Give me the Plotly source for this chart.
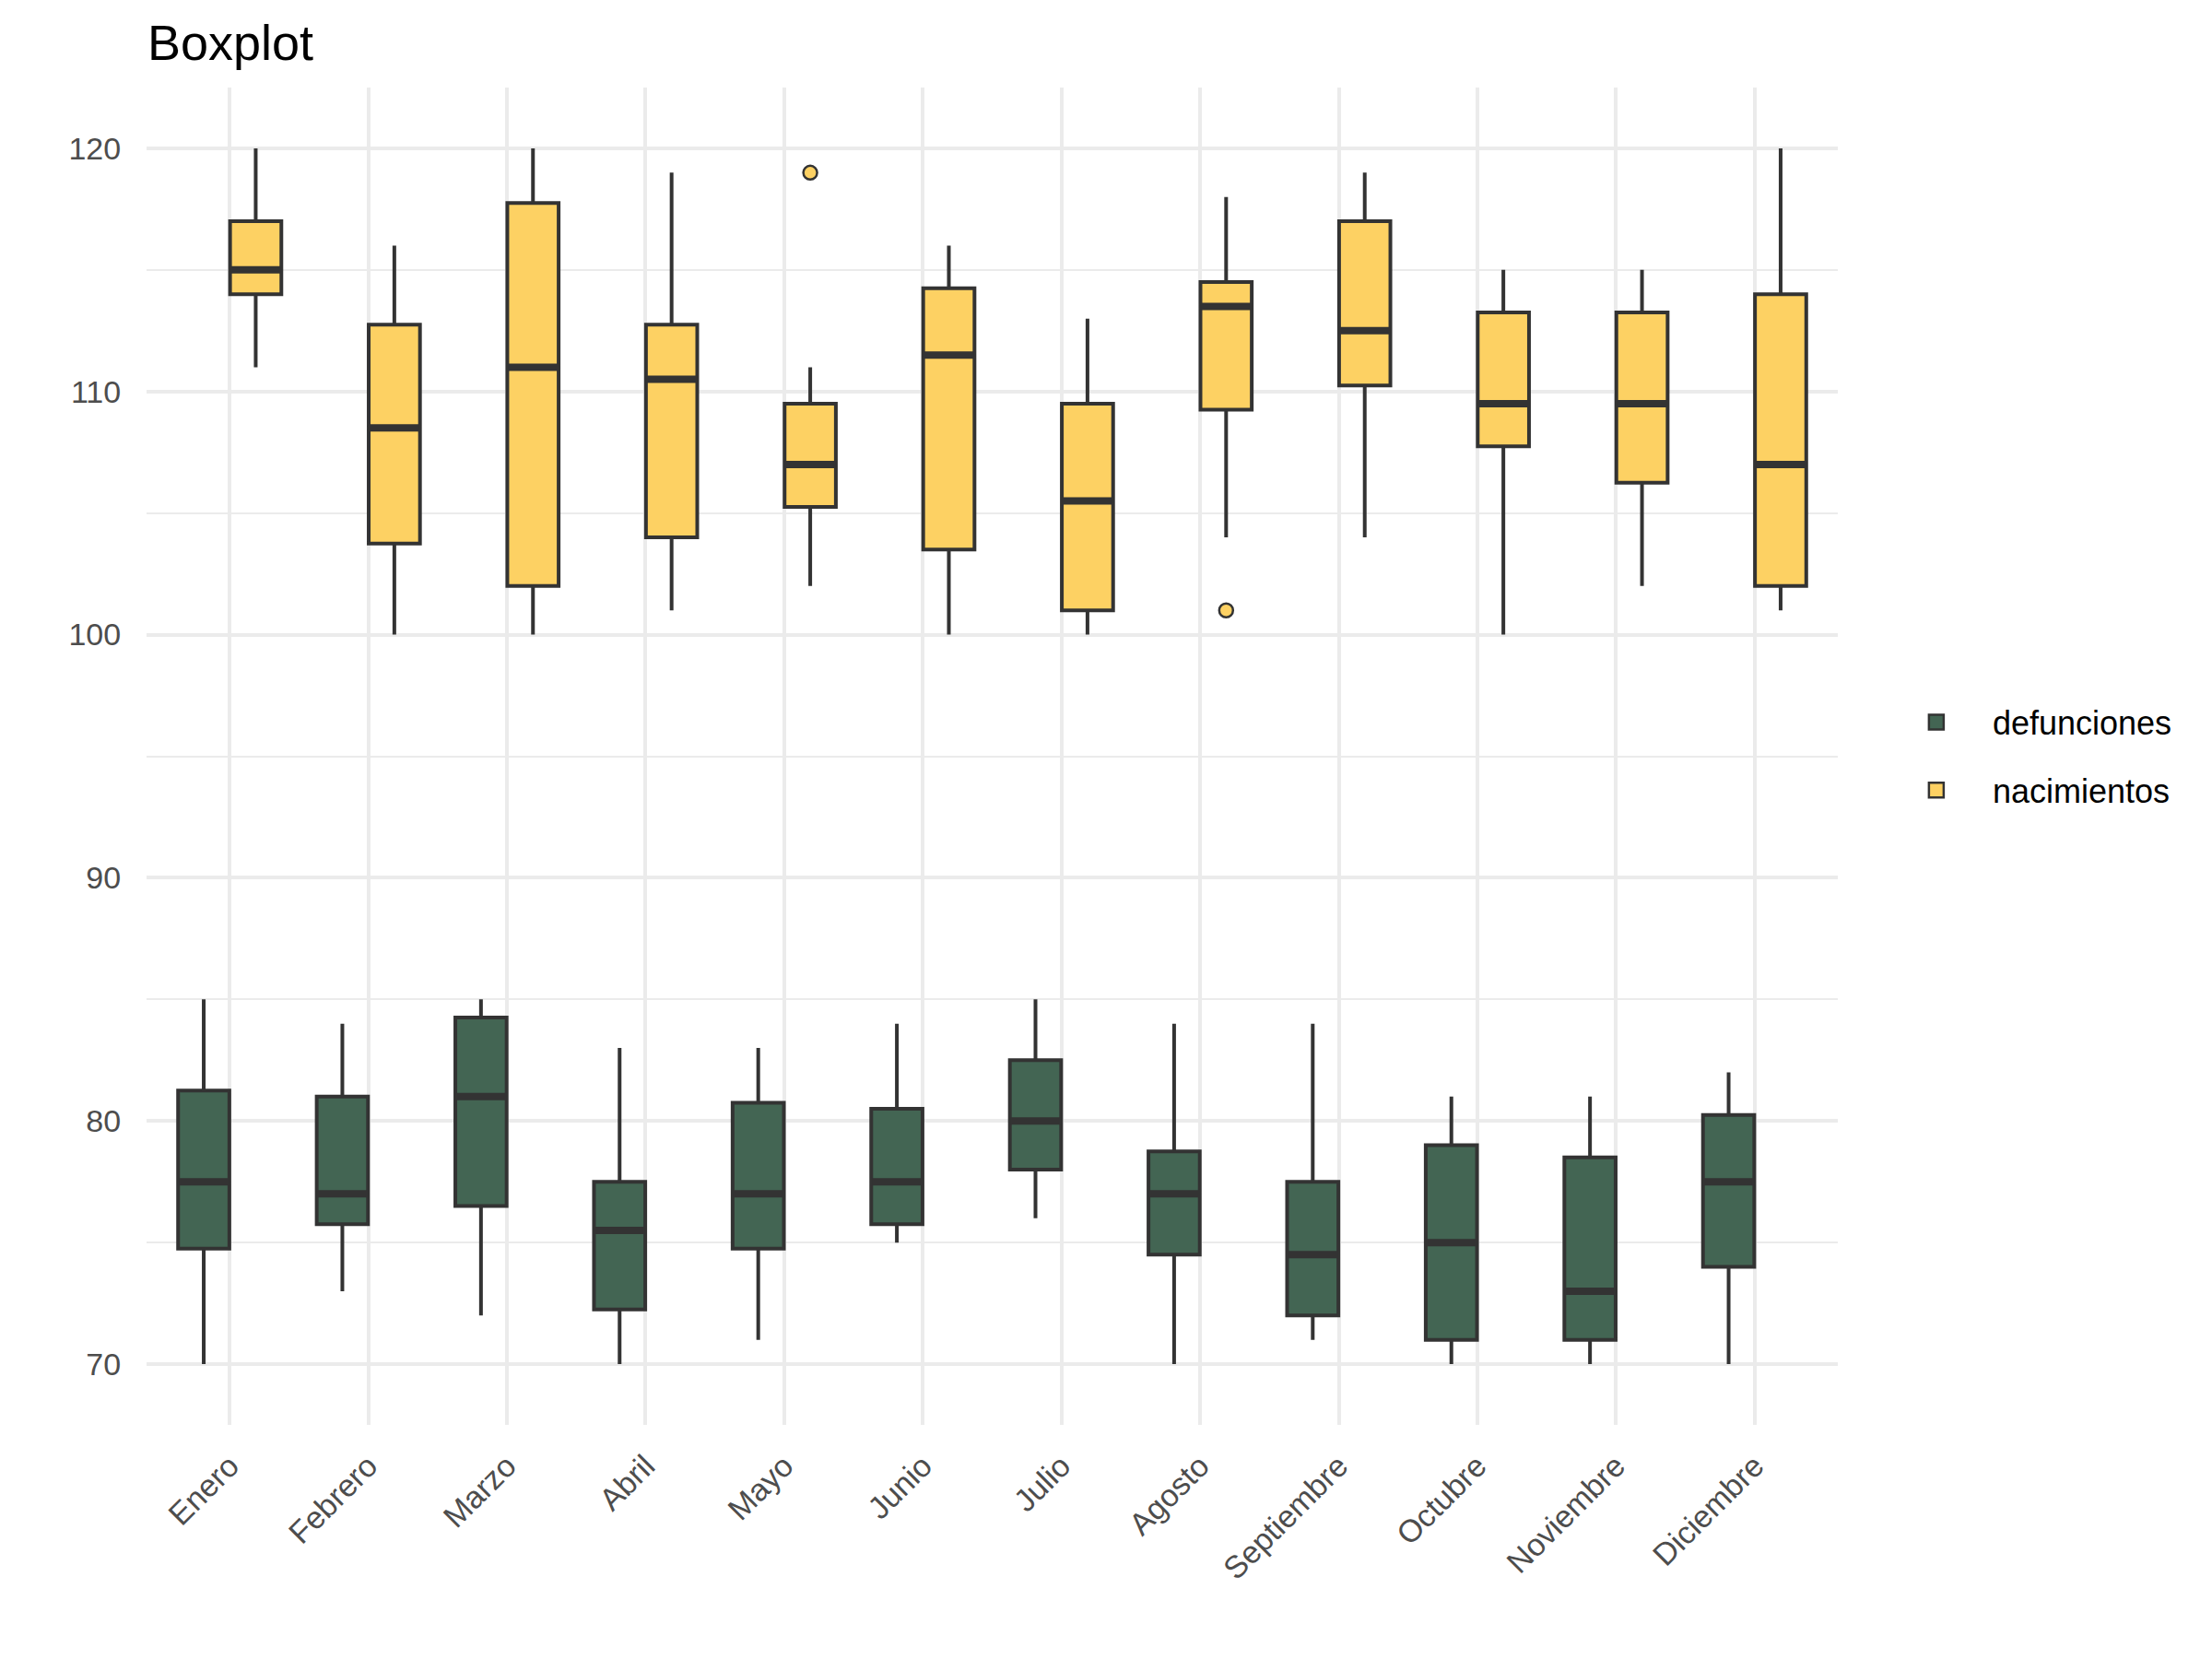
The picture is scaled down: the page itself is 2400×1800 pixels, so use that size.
import plotly.graph_objects as go

months = ["Enero", "Febrero", "Marzo", "Abril", "Mayo", "Junio", "Julio",
          "Agosto", "Septiembre", "Octubre", "Noviembre", "Diciembre"]

# defunciones
def_low = [70, 73, 72, 70, 71, 75, 76, 70, 71, 70, 70, 70]
def_q1 = [74.75, 75.75, 76.5, 72.25, 74.75, 75.75, 78, 74.5, 72, 71, 71, 74]
def_med = [77.5, 77, 81, 75.5, 77, 77.5, 80, 77, 74.5, 75, 73, 77.5]
def_q3 = [81.25, 81, 84.25, 77.5, 80.75, 80.5, 82.5, 78.75, 77.5, 79, 78.5, 80.25]
def_high = [85, 84, 85, 83, 83, 84, 85, 84, 84, 81, 81, 82]

# nacimientos
nac_low = [111, 100, 100, 101, 102, 100, 100, 104, 104, 100, 102, 101]
nac_q1 = [114, 103.75, 102, 104, 105.25, 103.5, 101, 109.25, 110.25, 107.75, 106.25, 102]
nac_med = [115, 108.5, 111, 110.5, 107, 111.5, 105.5, 113.5, 112.5, 109.5, 109.5, 107]
nac_q3 = [117, 112.75, 117.75, 112.75, 109.5, 114.25, 109.5, 114.5, 117, 113.25, 113.25, 114]
nac_high = [120, 116, 120, 119, 111, 116, 113, 118, 119, 115, 115, 120]

# outliers (nacimientos)
out_month = ["Mayo", "Agosto"]
out_value = [119, 101]

green = "#436553"
yellow = "#FDD163"
edge = "#333333"

dodge = 0.1875
bw = 0.37
idx = list(range(len(months)))

fig = go.Figure()

series = [
    ("defunciones", green, -dodge, def_low, def_q1, def_med, def_q3, def_high),
    ("nacimientos", yellow, dodge, nac_low, nac_q1, nac_med, nac_q3, nac_high),
]

for name, col, off, lo, q1, med, q3, hi in series:
    xs = [i + off for i in idx]
    fig.add_trace(go.Box(
        name=name, x=xs, q1=q1, median=med, q3=q3,
        lowerfence=lo, upperfence=hi,
        fillcolor=col, line=dict(color=edge, width=4),
        whiskerwidth=0, width=bw, boxpoints=False,
        legendgroup=name, showlegend=False,
    ))
    # thicker median line
    fig.add_trace(go.Box(
        name=name, x=xs, q1=med, median=med, q3=med,
        lowerfence=med, upperfence=med,
        fillcolor="rgba(0,0,0,0)", line=dict(color=edge, width=8),
        whiskerwidth=0, width=bw - 0.012, boxpoints=False,
        legendgroup=name, showlegend=False, hoverinfo="skip",
    ))
    # legend key
    fig.add_trace(go.Scatter(
        name=name, x=[None], y=[None], mode="markers",
        marker=dict(symbol="square", size=16, color=col,
                    line=dict(color=edge, width=2.5)),
        legendgroup=name, showlegend=True, hoverinfo="skip",
    ))

fig.add_trace(go.Scatter(
    x=[months.index(m) + dodge for m in out_month], y=out_value,
    mode="markers",
    marker=dict(size=15, color=yellow, line=dict(color=edge, width=2.5)),
    showlegend=False, hoverinfo="skip",
))

grid = "#EBEBEB"
fig.update_layout(
    width=2400, height=1800,
    paper_bgcolor="white", plot_bgcolor="white",
    margin=dict(l=151, r=414, t=87, b=262),
    font=dict(family="Liberation Sans, Arial, sans-serif", color="#4D4D4D", size=34),
    title=dict(text="Boxplot", x=152 / 2400, xanchor="left", xref="container",
               y=1 - 19 / 1800, yanchor="top", yref="container",
               font=dict(size=54, color="black")),
    showlegend=True,
    legend=dict(x=1.025, xanchor="left", y=0.5, yanchor="middle",
                font=dict(size=36, color="black"),
                traceorder="grouped", tracegroupgap=24,
                itemwidth=112),
    boxmode="overlay",
)

fig.update_xaxes(
    range=[-0.6, 11.6], tickmode="array", tickvals=idx, ticktext=months,
    tickangle=-45, showgrid=True, gridcolor=grid, gridwidth=4,
    zeroline=False, showline=False, ticks="outside", ticklen=10,
    tickcolor="rgba(0,0,0,0)", tickfont=dict(size=34, color="#4D4D4D"),
)
fig.update_yaxes(
    range=[67.5, 122.5], tickmode="array", tickvals=[70, 80, 90, 100, 110, 120],
    showgrid=True, gridcolor=grid, gridwidth=4,
    minor=dict(tickvals=[75, 85, 95, 105, 115], showgrid=True, gridcolor=grid, gridwidth=2),
    zeroline=False, showline=False, ticks="outside", ticklen=20,
    tickcolor="rgba(0,0,0,0)", tickfont=dict(size=34, color="#4D4D4D"),
)

fig.write_html("out.html")
